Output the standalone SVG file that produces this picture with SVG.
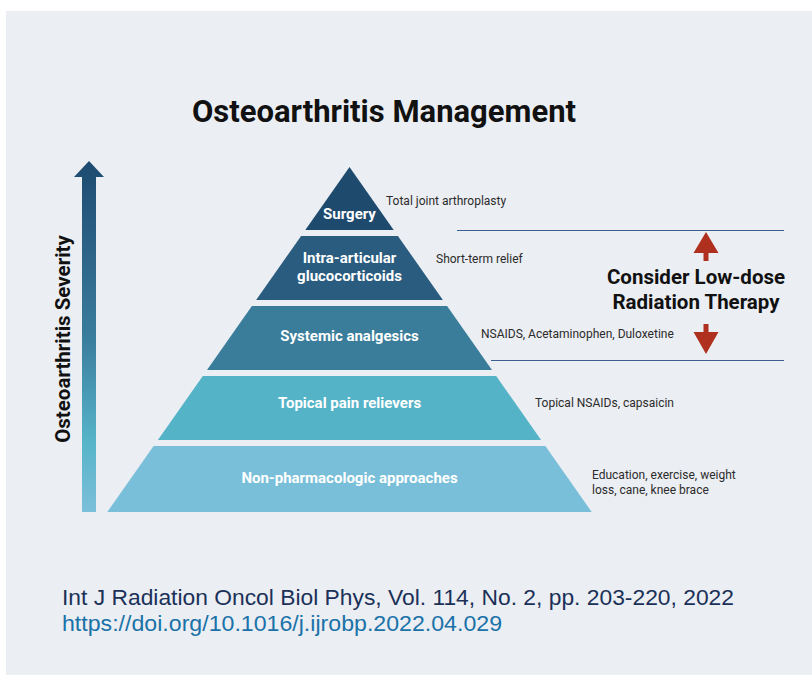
<svg xmlns="http://www.w3.org/2000/svg" width="812" height="675" viewBox="0 0 812 675">
<defs>
<linearGradient id="sev" x1="0" y1="0" x2="0" y2="1">
<stop offset="0" stop-color="#1d4a70"/>
<stop offset="0.5" stop-color="#3a7c9c"/>
<stop offset="0.8" stop-color="#56b4c9"/>
<stop offset="1" stop-color="#7cbfda"/>
</linearGradient>
<style>
.lbl{font-family:Roboto,"Liberation Sans",sans-serif;font-weight:bold;font-size:15px;fill:#ffffff;text-anchor:middle}
.note{font-family:Roboto,"Liberation Sans",sans-serif;font-size:12px;fill:#2b2b2b}
.hl{stroke:#3a5f90;stroke-width:1}
.red{fill:#b03020}
.big{font-family:Roboto,"Liberation Sans",sans-serif;font-weight:bold;fill:#111111;text-anchor:middle}
</style>
</defs>
<rect x="0" y="0" width="812" height="675" fill="#ffffff"/>
<rect x="6" y="11" width="806" height="664" fill="#ebeef3"/>
<text class="big" x="384" y="122" font-size="31">Osteoarthritis Management</text>

<g id="severity-axis">
<path d="M82,512 L82,177 L74,177 L89,161 L104,177 L96,177 L96,512 Z" fill="url(#sev)"/>
<text class="big" transform="translate(70,339) rotate(-90)" font-size="20.5">Osteoarthritis Severity</text>
</g>

<g id="surgery">
<polygon points="349.5,167 393.7,230 305.3,230" fill="#1e4a6e"/>
<text class="lbl" x="349.5" y="219">Surgery</text>
<text class="note" x="386" y="205">Total joint arthroplasty</text>
</g>
<g id="intra-articular">
<polygon points="301.1,236 397.9,236 442.9,300 256.1,300" fill="#2a5c80"/>
<text class="lbl" x="349.5" y="263">Intra-articular</text>
<text class="lbl" x="349.5" y="281">glucocorticoids</text>
<text class="note" x="436" y="263">Short-term relief</text>
</g>
<g id="systemic">
<polygon points="251.9,306 447.1,306 492,370 207,370" fill="#3a7d9b"/>
<text class="lbl" x="349.5" y="341">Systemic analgesics</text>
<text class="note" x="481" y="338">NSAIDS, Acetaminophen, Duloxetine</text>
</g>
<g id="topical">
<polygon points="202.8,376 496.2,376 541.1,440 157.9,440" fill="#55b3c7"/>
<text class="lbl" x="349.5" y="408">Topical pain relievers</text>
<text class="note" x="535" y="407">Topical NSAIDs, capsaicin</text>
</g>
<g id="non-pharmacologic">
<polygon points="153.6,446 545.4,446 591.7,512 107.3,512" fill="#79bfd9"/>
<text class="lbl" x="349.5" y="483">Non-pharmacologic approaches</text>
<text class="note" x="592" y="479">Education, exercise, weight</text>
<text class="note" x="592" y="494">loss, cane, knee brace</text>
</g>

<g id="connectors">
<line class="hl" x1="457" y1="230.5" x2="784" y2="230.5"/>
<line class="hl" x1="491" y1="360.5" x2="784" y2="360.5"/>
<polygon class="red" points="706,232 718.5,253 708.5,253 708.5,261 703.5,261 703.5,253 693.5,253"/>
<polygon class="red" points="706,354 718.5,332 708.5,332 708.5,324 703.5,324 703.5,332 693.5,332"/>
</g>

<g id="radiation">
<text class="big" x="696" y="284" font-size="20.5">Consider Low-dose</text>
<text class="big" x="696" y="309" font-size="20.5">Radiation Therapy</text>
</g>

<g id="citation">
<text x="62" y="605" font-family="'Liberation Sans',Arial,sans-serif" font-size="22" fill="#1b3158" textLength="672" lengthAdjust="spacingAndGlyphs">Int J Radiation Oncol Biol Phys, Vol. 114, No. 2, pp. 203-220, 2022</text>
<text x="62" y="631" font-family="'Liberation Sans',Arial,sans-serif" font-size="22" fill="#1a72a8" textLength="440" lengthAdjust="spacingAndGlyphs">https://doi.org/10.1016/j.ijrobp.2022.04.029</text>
</g>
</svg>
